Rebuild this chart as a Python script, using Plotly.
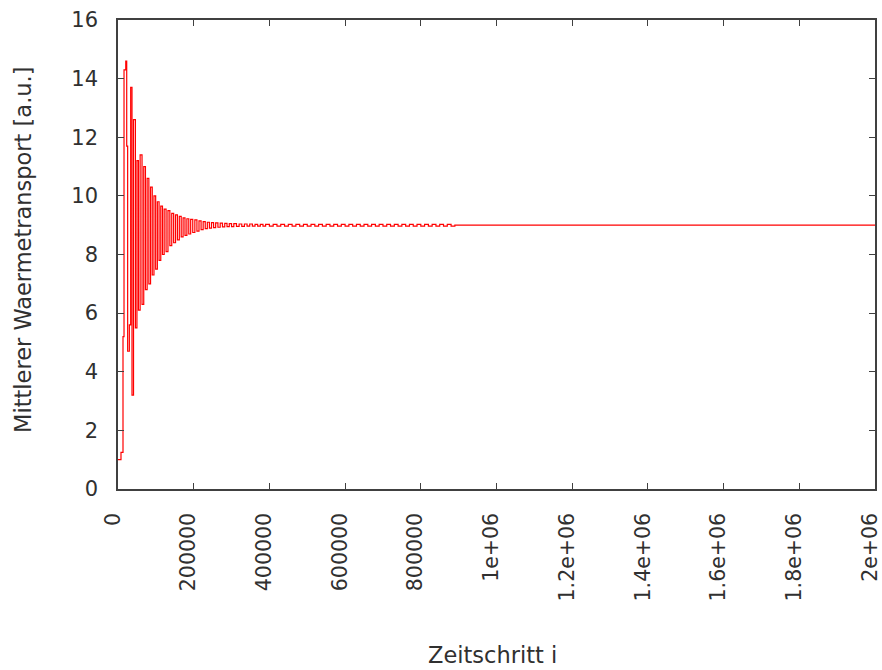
import plotly.graph_objects as go

# Zeitschritt i (time step) and mean heat transport values
steps_main = [0, 7900, 13200, 15900, 20500, 23000, 25500, 30000, 33500, 37000,
              41000, 46000, 50000, 54000, 58500, 63500, 68000, 72500, 77000, 81500,
              86000, 90500, 95000, 99500, 104000, 108500, 113000, 117500, 122000, 127000,
              132000, 137000, 142000, 147000, 152000, 157000, 162000, 167000, 172000, 177000,
              182000, 187000, 192000, 197500, 203000, 208500, 214000, 219500, 225000, 230500,
              236000, 241500, 247000, 252500, 258000, 264000, 270000, 276000, 282000, 288000,
              294000, 300000, 306000, 313000, 320000, 327000, 334000, 341000, 348000, 355000,
              362000, 369000, 376000, 383000, 390000]
values_main = [1.0, 1.25, 5.2, 14.3, 14.6, 11.7, 4.7, 5.6, 13.7, 3.2,
               12.6, 5.5, 11.2, 6.1, 11.4, 6.3, 11.0, 6.8, 10.6, 7.0,
               10.3, 7.3, 10.0, 7.5, 9.8, 7.8, 9.65, 8.0, 9.55, 8.1,
               9.5, 8.3, 9.4, 8.4, 9.35, 8.5, 9.3, 8.6, 9.25, 8.65,
               9.22, 8.7, 9.2, 8.75, 9.18, 8.8, 9.15, 8.85, 9.12, 8.88,
               9.1, 8.9, 9.09, 8.92, 9.08, 8.93, 9.07, 8.94, 9.06, 8.95,
               9.05, 8.95, 9.05, 8.96, 9.04, 8.96, 9.04, 8.97, 9.04, 8.97,
               9.03, 8.97, 9.03, 8.97, 9.03]

steps_ripple = [400000, 410000, 420000, 430000, 440000, 450000, 460000, 470000, 480000, 490000,
                500000, 510000, 520000, 530000, 540000, 550000, 560000, 570000, 580000, 590000,
                600000, 610000, 620000, 630000, 640000, 650000, 660000, 670000, 680000, 690000,
                700000, 710000, 720000, 730000, 740000, 750000, 760000, 770000, 780000, 790000,
                800000, 810000, 820000, 830000, 840000, 850000, 860000, 870000, 880000]
values_ripple = [8.97, 9.03, 8.97, 9.03, 8.97, 9.03, 8.97, 9.03, 8.97, 9.03,
                 8.97, 9.03, 8.97, 9.03, 8.97, 9.03, 8.97, 9.03, 8.97, 9.03,
                 8.97, 9.03, 8.97, 9.03, 8.97, 9.03, 8.97, 9.03, 8.97, 9.03,
                 8.97, 9.03, 8.97, 9.03, 8.97, 9.03, 8.97, 9.03, 8.97, 9.03,
                 8.97, 9.03, 8.97, 9.03, 8.97, 9.03, 8.97, 9.03, 8.97]

steps_tail = [890000, 2000000]
values_tail = [9.0, 9.0]

x_tickvals = [0, 200000, 400000, 600000, 800000, 1000000, 1200000, 1400000, 1600000, 1800000, 2000000]
x_ticktext = ["0", "200000", "400000", "600000", "800000", "1e+06", "1.2e+06", "1.4e+06",
              "1.6e+06", "1.8e+06", "2e+06"]
y_tickvals = [0, 2, 4, 6, 8, 10, 12, 14, 16]

x_title = "Zeitschritt i"
y_title = "Mittlerer Waermetransport [a.u.]"

xs = steps_main + steps_ripple + steps_tail
ys = values_main + values_ripple + values_tail

fig = go.Figure()
fig.add_trace(go.Scatter(x=xs, y=ys, mode="lines", line=dict(color="#ff0000", width=1.2, shape="hv"),
                         showlegend=False, hoverinfo="skip"))

font_family = "DejaVu Sans"
axis_color = "#404040"
text_color = "#303030"
fig.update_layout(
    width=882, height=670,
    margin=dict(l=118, r=7, t=20, b=181),
    paper_bgcolor="white", plot_bgcolor="white",
    font=dict(family=font_family, size=21, color=text_color),
    showlegend=False,
)
fig.update_xaxes(
    range=[0, 2000000], tickmode="array", tickvals=x_tickvals, ticktext=x_ticktext,
    tickangle=-90, ticks="inside", ticklen=6, tickwidth=1, tickcolor=axis_color,
    showline=True, linecolor=axis_color, linewidth=1.5, mirror="ticks",
    showgrid=False, zeroline=False, ticklabelstandoff=14, ticklabeloverflow="allow",
    ticklabelshift=-5, automargin=False,
    tickfont=dict(family=font_family, size=20.5, color=text_color),
)
fig.update_yaxes(
    range=[0, 16], tickmode="array", tickvals=y_tickvals, ticktext=[str(v) for v in y_tickvals],
    ticks="inside", ticklen=6, tickwidth=1, tickcolor=axis_color,
    showline=True, linecolor=axis_color, linewidth=1.5, mirror="ticks",
    showgrid=False, zeroline=False, ticklabelstandoff=14, ticklabeloverflow="allow",
    automargin=False,
    tickfont=dict(family=font_family, size=21, color=text_color),
)
fig.add_annotation(text=x_title, xref="paper", yref="paper", x=(492 - 118) / 757, y=(489 - 655) / 469,
                   xanchor="center", yanchor="middle", showarrow=False,
                   font=dict(family=font_family, size=22.5, color=text_color))
fig.add_annotation(text=y_title, xref="paper", yref="paper", x=(23 - 118) / 757, y=(489 - 250) / 469,
                   xanchor="center", yanchor="middle", textangle=-90, showarrow=False,
                   font=dict(family=font_family, size=22.5, color=text_color))

fig.write_html("out.html")
